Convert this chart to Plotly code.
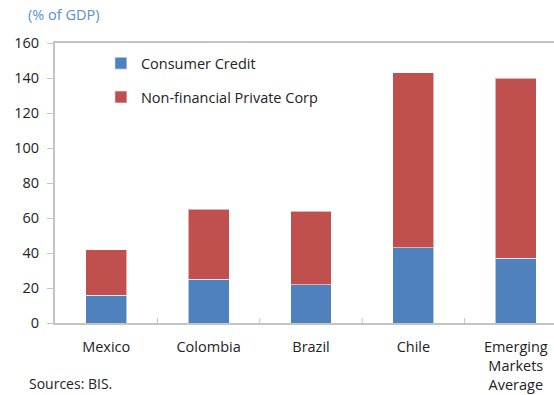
import plotly.graph_objects as go

categories = ["Mexico", "Colombia", "Brazil", "Chile", "Emerging<br>Markets<br>Average"]
consumer_credit = [16, 25, 22, 43, 37]
nonfin_corp = [26, 40, 42, 100, 103]
y_ticks = [0, 20, 40, 60, 80, 100, 120, 140, 160]

FONT = "Open Sans, Noto Sans, sans-serif"
x_idx = list(range(len(categories)))

fig = go.Figure()
fig.add_trace(go.Bar(
    x=x_idx, y=consumer_credit, name="Consumer Credit",
    marker=dict(color="#4F81BD", line=dict(color="rgba(255,255,255,0.55)", width=1)),
    width=0.4, legendgroup="a",
))
fig.add_trace(go.Bar(
    x=x_idx, y=nonfin_corp, name="Non-financial Private Corp",
    marker=dict(color="#C0504D", line=dict(color="rgba(255,255,255,0.55)", width=1)),
    width=0.4, legendgroup="b",
))

fig.update_layout(
    width=554, height=395,
    barmode="stack",
    paper_bgcolor="white", plot_bgcolor="white",
    margin=dict(l=55, r=0, t=43, b=72),
    font=dict(family=FONT, size=14.5, color="#222222"),
    showlegend=True,
    legend=dict(
        x=0.092, y=0.985, xanchor="left", yanchor="top",
        traceorder="grouped", tracegroupgap=12,
        font=dict(size=14.5, color="#222222"),
        bgcolor="rgba(0,0,0,0)", itemwidth=30,
    ),
    xaxis=dict(
        range=[-0.5, -0.5 + 499 / 102.4],
        tickmode="array", tickvals=x_idx, ticktext=categories,
        showline=True, linecolor="#c4c4c4", linewidth=2, mirror=True,
        showgrid=False, zeroline=False,
        ticks="", ticklabelstandoff=10,
        tickfont=dict(size=14.5, color="#222222"),
    ),
    yaxis=dict(
        range=[0, 160], tickmode="array", tickvals=y_ticks,
        showline=True, linecolor="#c4c4c4", linewidth=2,
        showgrid=False, zeroline=False,
        ticks="outside", ticklen=6, tickcolor="#c4c4c4", tickwidth=1,
        ticklabelstandoff=5,
        tickfont=dict(size=14.5, color="#222222"),
    ),
    annotations=[
        dict(text="(% of GDP)", xref="paper", yref="paper", x=-0.058, y=1.1,
             xanchor="left", yanchor="middle", showarrow=False,
             font=dict(size=14.5, color="#5B8FC7", family=FONT)),
        dict(text="Sources: BIS.", xref="paper", yref="paper", x=-0.056, y=-0.215,
             xanchor="left", yanchor="middle", showarrow=False,
             font=dict(size=14, color="#222222", family=FONT)),
    ],
)

# inner tick marks at category boundaries
for b in [0.5, 1.5, 2.5, 3.5]:
    fig.add_shape(type="line", xref="x", yref="y", x0=b, x1=b, y0=0, y1=2.9,
                  line=dict(color="#c4c4c4", width=1))

fig.write_html("out.html", config={"displayModeBar": False},
               post_script="document.body.style.margin='0';document.body.style.overflow='hidden';")
